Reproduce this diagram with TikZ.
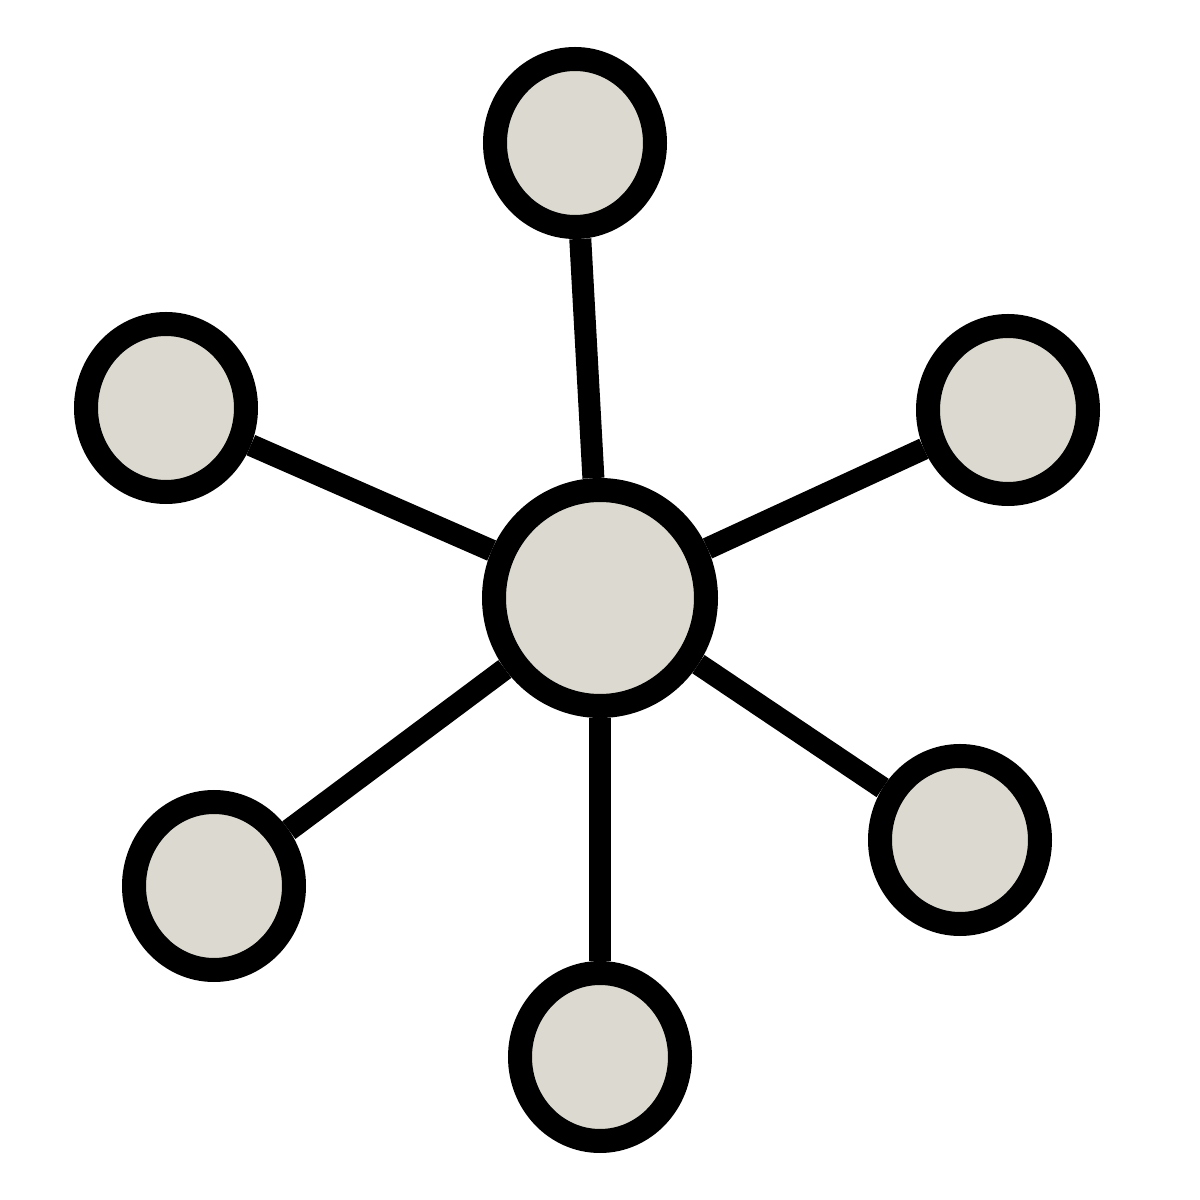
\documentclass[tikz,border=0pt]{standalone}
\usepackage{xcolor}
\usepackage{tikz}
\usetikzlibrary{shapes.geometric, calc}

\definecolor{nodefill}{HTML}{DCDAD0}

\begin{document}
\begin{tikzpicture}[
        hub/.style={ellipse, draw, line width=0.24cm, fill=nodefill, minimum width=2.12cm, minimum height=2.16cm},
        leaf/.style={ellipse, draw, line width=0.24cm, fill=nodefill, minimum width=1.60cm, minimum height=1.68cm},
        link/.style={line width=0.22cm}
    ]
        \useasboundingbox[fill=white] (0,0) rectangle (12,12);

        % Nodes
        \node[hub] (hub) at (6.00,6.02) {};
        \node[leaf] (top) at (5.75,10.57) {};
        \node[leaf] (left) at (1.66,7.92) {};
        \node[leaf] (right) at (10.08,7.90) {};
        \node[leaf] (botleft) at (2.14,3.14) {};
        \node[leaf] (botright) at (9.60,3.60) {};
        \node[leaf] (bottom) at (6.00,1.43) {};

        % Links
        \foreach \leafname in {top, left, right, botleft, botright, bottom}
            \draw[link] (hub) -- (\leafname);

    \end{tikzpicture}
\end{document}
